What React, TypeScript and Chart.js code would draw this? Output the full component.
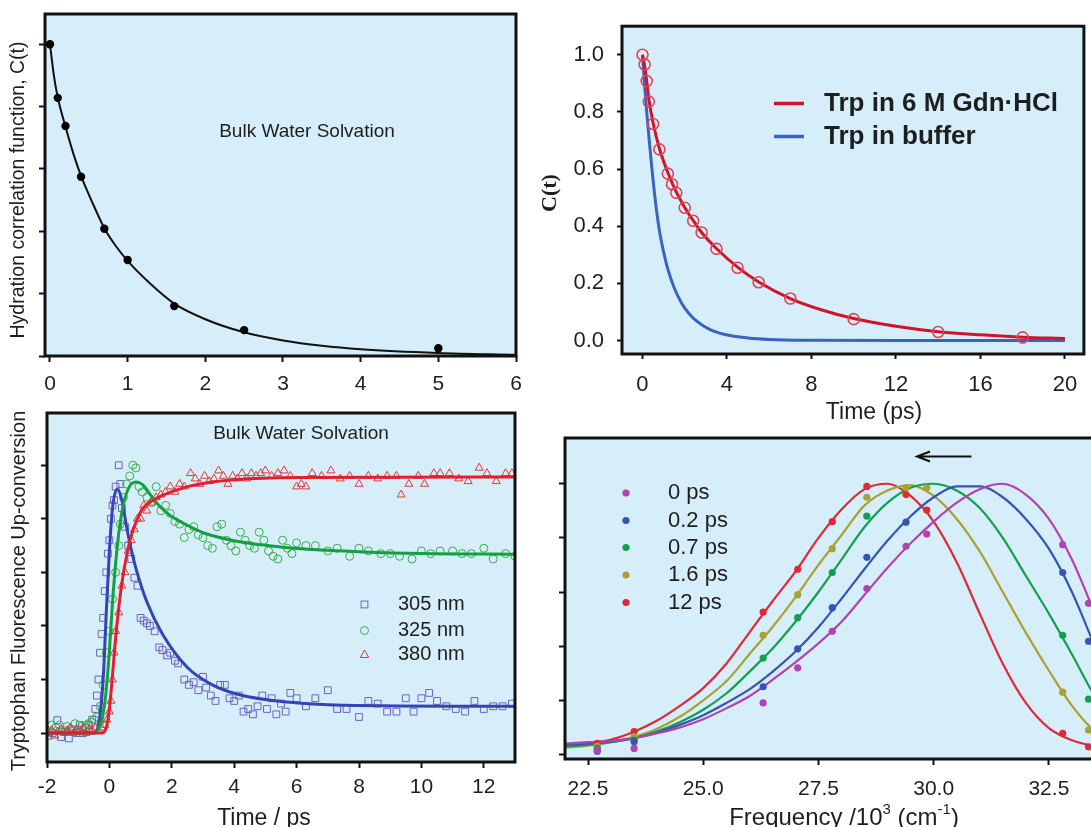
import React, { useEffect, useRef } from 'react';
import { Chart, registerables } from 'chart.js';

Chart.register(...registerables);

const FONT = '"Liberation Sans", Arial, sans-serif';
const SERIF = '"Liberation Serif", "Times New Roman", serif';
const BG = '#d6eef9';
const INK = '#1e1e1e';

// ---------- Panel 1: bulk water hydration correlation ----------
const bulkTimes = [0, 0.1, 0.2, 0.4, 0.7, 1.0, 1.6, 2.5, 5.0];
const bulkCorr = [1.0, 0.828, 0.738, 0.575, 0.408, 0.308, 0.16, 0.083, 0.025];
const bulkFitTimes = [0, 0.05, 0.1, 0.2, 0.3, 0.4, 0.55, 0.7, 0.85, 1.0, 1.3, 1.6, 2.0, 2.5, 3.0, 3.5, 4.0, 5.0, 6.0];
const bulkFitCorr = [1.0, 0.9, 0.83, 0.735, 0.65, 0.578, 0.49, 0.41, 0.352, 0.305, 0.23, 0.168, 0.118, 0.076, 0.05, 0.033, 0.022, 0.01, 0.004];
const bulkTicksX = [0, 1, 2, 3, 4, 5, 6];
const bulkTicksY = [0, 0.2, 0.4, 0.6, 0.8, 1.0];

// ---------- Panel 2: C(t) Trp ----------
const gdnTimes = [0, 0.1, 0.2, 0.3, 0.5, 0.8, 1.2, 1.4, 1.6, 2.0, 2.4, 2.8, 3.5, 4.5, 5.5, 7, 10, 14, 18];
const gdnCorr = [1.0, 0.966, 0.908, 0.836, 0.758, 0.669, 0.584, 0.547, 0.517, 0.465, 0.419, 0.378, 0.321, 0.255, 0.204, 0.147, 0.075, 0.03, 0.011];
const gdnFitTimes = [0, 0.1, 0.2, 0.3, 0.5, 0.8, 1.2, 1.6, 2.0, 2.4, 2.8, 3.5, 4.5, 5.5, 7, 8.5, 10, 12, 14, 16, 18, 20];
const gdnFitCorr = [1.0, 0.962, 0.908, 0.845, 0.762, 0.672, 0.588, 0.52, 0.466, 0.42, 0.378, 0.322, 0.257, 0.205, 0.147, 0.107, 0.077, 0.05, 0.031, 0.02, 0.012, 0.007];
const bufferFitTimes = [0, 0.1, 0.2, 0.3, 0.43, 0.6, 0.79, 1.0, 1.2, 1.5, 1.86, 2.2, 2.6, 3.2, 3.9, 5, 6, 8, 12, 20];
const bufferFitCorr = [1.0, 0.895, 0.8, 0.715, 0.615, 0.495, 0.39, 0.31, 0.25, 0.185, 0.13, 0.095, 0.066, 0.038, 0.021, 0.009, 0.004, 0.001, 0.0, 0.0];
const ctTicksX = [0, 4, 8, 12, 16, 20];
const ctTicksY = [0, 0.2, 0.4, 0.6, 0.8, 1.0];
const ctLegend = ['Trp in 6 M Gdn\u00b7HCl', 'Trp in buffer'];

// ---------- Panel 3: up-conversion transients [time ps, signal] ----------
const uv305Points = [
  [-1.95, -0.01], [-1.82, 0.0], [-1.67, 0.048], [-1.55, -0.015], [-1.42, 0.005], [-1.3, -0.02], [-1.18, 0.01], [-1.05, 0.0],
  [-0.95, 0.03], [-0.85, 0.0], [-0.75, 0.02], [-0.65, 0.03], [-0.55, 0.05], [-0.45, 0.09], [-0.4, 0.14], [-0.35, 0.2],
  [-0.3, 0.3], [-0.25, 0.37], [-0.2, 0.43], [-0.15, 0.53], [-0.1, 0.6], [-0.05, 0.67], [0.0, 0.72], [0.05, 0.8],
  [0.1, 0.85], [0.15, 0.87], [0.2, 0.92], [0.3, 1.0], [0.35, 0.93], [0.4, 0.84], [0.5, 0.77], [0.6, 0.7],
  [0.7, 0.65], [0.8, 0.58], [0.9, 0.55], [1.0, 0.43], [1.1, 0.42], [1.2, 0.41], [1.3, 0.4], [1.45, 0.38],
  [1.6, 0.32], [1.7, 0.31], [1.85, 0.29], [1.95, 0.3], [2.1, 0.27], [2.2, 0.26], [2.4, 0.2], [2.55, 0.18],
  [2.7, 0.19], [2.85, 0.16], [3.0, 0.21], [3.1, 0.17], [3.25, 0.14], [3.4, 0.12], [3.55, 0.18], [3.7, 0.18],
  [3.85, 0.13], [4.0, 0.12], [4.15, 0.14], [4.3, 0.08], [4.45, 0.09], [4.6, 0.07], [4.75, 0.1], [4.9, 0.14],
  [5.05, 0.09], [5.2, 0.13], [5.35, 0.07], [5.5, 0.11], [5.65, 0.08], [5.8, 0.15], [6.0, 0.13], [6.3, 0.1],
  [6.6, 0.13], [7.0, 0.16], [7.3, 0.09], [7.6, 0.09], [8.0, 0.06], [8.3, 0.12], [8.6, 0.11], [8.9, 0.08],
  [9.2, 0.08], [9.5, 0.13], [9.75, 0.08], [10.0, 0.13], [10.25, 0.15], [10.5, 0.12], [10.8, 0.1], [11.1, 0.09],
  [11.4, 0.08], [11.7, 0.12], [12.0, 0.09], [12.3, 0.1], [12.6, 0.1], [12.9, 0.11],
];
const uv325Points = [
  [-1.98, 0.01], [-1.85, 0.03], [-1.72, 0.02], [-1.6, 0.03], [-1.48, 0.01], [-1.35, 0.025], [-1.22, 0.015], [-1.1, 0.035],
  [-0.98, 0.01], [-0.88, 0.025], [-0.78, 0.02], [-0.68, 0.035], [-0.58, 0.04], [-0.48, 0.05], [-0.4, 0.06], [-0.3, 0.1],
  [-0.2, 0.18], [-0.1, 0.3], [0.0, 0.38], [0.1, 0.5], [0.2, 0.6], [0.3, 0.7], [0.35, 0.78], [0.45, 0.88],
  [0.55, 0.93], [0.65, 0.96], [0.75, 1.0], [0.85, 0.99], [0.95, 0.92], [1.05, 0.9], [1.2, 0.88], [1.35, 0.86],
  [1.5, 0.92], [1.65, 0.83], [1.8, 0.85], [1.95, 0.82], [2.1, 0.79], [2.25, 0.78], [2.4, 0.73], [2.55, 0.76],
  [2.7, 0.77], [2.85, 0.74], [3.0, 0.73], [3.15, 0.7], [3.3, 0.69], [3.45, 0.77], [3.6, 0.78], [3.75, 0.72],
  [3.9, 0.7], [4.05, 0.68], [4.2, 0.75], [4.35, 0.72], [4.5, 0.7], [4.65, 0.69], [4.8, 0.75], [4.95, 0.72],
  [5.1, 0.68], [5.25, 0.66], [5.4, 0.65], [5.55, 0.72], [5.7, 0.69], [5.85, 0.67], [6.0, 0.71], [6.3, 0.7],
  [6.6, 0.7], [7.0, 0.68], [7.3, 0.69], [7.7, 0.66], [8.0, 0.69], [8.3, 0.68], [8.7, 0.67], [9.0, 0.67],
  [9.3, 0.66], [9.7, 0.65], [10.0, 0.68], [10.3, 0.67], [10.6, 0.68], [11.0, 0.68], [11.3, 0.67], [11.6, 0.67],
  [12.0, 0.69], [12.3, 0.65], [12.7, 0.67], [13.0, 0.66],
];
const uv380Points = [
  [-1.95, 0.0], [-1.85, 0.01], [-1.75, -0.01], [-1.65, 0.005], [-1.55, 0.015], [-1.45, 0.0], [-1.35, 0.01], [-1.25, 0.02],
  [-1.15, 0.0], [-1.05, 0.015], [-0.95, 0.01], [-0.85, 0.02], [-0.75, 0.0], [-0.65, 0.015], [-0.55, 0.01], [-0.45, 0.02],
  [-0.35, 0.01], [-0.25, 0.02], [-0.15, 0.03], [-0.08, 0.05], [0.0, 0.08], [0.05, 0.12], [0.1, 0.2], [0.15, 0.3],
  [0.2, 0.38], [0.3, 0.45], [0.4, 0.55], [0.5, 0.6], [0.6, 0.68], [0.7, 0.72], [0.8, 0.76], [0.9, 0.8],
  [1.0, 0.8], [1.1, 0.85], [1.2, 0.83], [1.35, 0.86], [1.5, 0.88], [1.65, 0.89], [1.8, 0.9], [1.95, 0.92],
  [2.1, 0.9], [2.25, 0.93], [2.4, 0.92], [2.6, 0.97], [2.75, 0.95], [2.9, 0.93], [3.05, 0.96], [3.2, 0.94],
  [3.35, 0.95], [3.5, 0.98], [3.65, 0.96], [3.8, 0.93], [3.95, 0.96], [4.1, 0.95], [4.25, 0.97], [4.4, 0.95],
  [4.55, 0.97], [4.7, 0.96], [4.85, 0.97], [5.0, 0.98], [5.2, 0.96], [5.4, 0.97], [5.6, 0.98], [5.8, 0.96],
  [6.0, 0.92], [6.15, 0.93], [6.3, 0.92], [6.5, 0.97], [6.8, 0.96], [7.1, 0.98], [7.4, 0.95], [7.7, 0.96],
  [8.0, 0.93], [8.3, 0.96], [8.6, 0.95], [8.9, 0.96], [9.2, 0.96], [9.35, 0.89], [9.6, 0.93], [9.9, 0.96],
  [10.1, 0.93], [10.4, 0.97], [10.6, 0.97], [10.9, 0.97], [11.2, 0.95], [11.5, 0.94], [11.85, 0.99], [12.1, 0.97],
  [12.4, 0.94], [12.7, 0.97], [12.9, 0.97],
];
const uv305Fit = [
  [-2, 0], [-0.5, 0.0], [-0.35, 0.03], [-0.2, 0.2], [-0.1, 0.45], [0, 0.68], [0.1, 0.84], [0.25, 0.91], [0.4, 0.87],
  [0.55, 0.77], [0.7, 0.685], [0.85, 0.615], [1.2, 0.49], [1.7, 0.37], [2.5, 0.245], [3.3, 0.18], [4.2, 0.142],
  [5.6, 0.117], [7.5, 0.104], [13, 0.1],
];
const uv325Fit = [
  [-2, 0], [-0.45, 0.0], [-0.3, 0.03], [-0.23, 0.054], [-0.12, 0.14], [-0.01, 0.29], [0.1, 0.49], [0.26, 0.705],
  [0.43, 0.843], [0.65, 0.922], [0.87, 0.937], [1.09, 0.925], [1.31, 0.89], [1.65, 0.842], [1.98, 0.81],
  [2.53, 0.774], [3.08, 0.745], [4.0, 0.718], [5.07, 0.7], [6, 0.689], [8, 0.677], [10, 0.67], [13, 0.668],
];
const uv380Fit = [
  [-2, 0], [-0.25, 0.0], [-0.1, 0.02], [0.0, 0.09], [0.1, 0.217], [0.21, 0.367], [0.38, 0.543], [0.6, 0.69],
  [0.75, 0.755], [0.9, 0.8], [1.05, 0.835], [1.25, 0.858], [1.65, 0.885], [1.98, 0.9], [2.53, 0.921], [3.08, 0.934],
  [4, 0.946], [6, 0.954], [13, 0.956],
];
const upTicksX = [-2, 0, 2, 4, 6, 8, 10, 12];
const upTicksY = [0, 0.2, 0.4, 0.6, 0.8, 1.0];
const upLegend = ['305 nm', '325 nm', '380 nm'];

// ---------- Panel 4: time-resolved spectra ----------
const specFreq = [22.7, 23.5, 26.3, 27.05, 27.8, 28.55, 29.4, 29.85, 32.8, 33.36];
const spec0ps = [0.015, 0.022, 0.19, 0.32, 0.455, 0.613, 0.769, 0.814, 0.775, 0.558];
const spec02ps = [0.012, 0.047, 0.25, 0.39, 0.542, 0.728, 0.858, null, 0.672, 0.418];
const spec07ps = [0.022, 0.053, 0.356, 0.505, 0.672, 0.88, null, null, 0.44, 0.204];
const spec16ps = [0.03, 0.066, 0.44, 0.59, 0.76, 0.95, 0.985, 0.985, 0.23, 0.09];
const spec12ps = [0.041, 0.084, 0.526, 0.684, 0.86, 0.99, 0.96, 0.903, 0.078, 0.028];
const specFitFreq = [22, 22.5, 23, 23.5, 24, 24.5, 25, 25.5, 26, 26.5, 27, 27.5, 28, 28.5, 29, 29.5, 30, 30.5, 31, 31.5, 32, 32.5, 33, 33.5, 34];
const fit0ps = [0.04, 0.045, 0.05, 0.06, 0.078, 0.1, 0.13, 0.17, 0.215, 0.275, 0.34, 0.41, 0.49, 0.59, 0.69, 0.78, 0.86, 0.93, 0.98, 1.0, 0.96, 0.87, 0.72, 0.52, 0.32];
const fit02ps = [0.035, 0.04, 0.048, 0.06, 0.08, 0.11, 0.145, 0.19, 0.24, 0.305, 0.38, 0.47, 0.575, 0.685, 0.79, 0.88, 0.95, 0.99, 0.99, 0.95, 0.87, 0.76, 0.6, 0.4, 0.22];
const fit07ps = [0.03, 0.035, 0.045, 0.06, 0.085, 0.12, 0.165, 0.225, 0.305, 0.39, 0.49, 0.6, 0.72, 0.84, 0.93, 0.985, 1.0, 0.975, 0.91, 0.8, 0.66, 0.52, 0.37, 0.215, 0.11];
const fit16ps = [0.025, 0.032, 0.045, 0.065, 0.095, 0.14, 0.2, 0.27, 0.37, 0.47, 0.58, 0.7, 0.81, 0.92, 0.975, 0.995, 0.955, 0.87, 0.75, 0.6, 0.45, 0.31, 0.18, 0.085, 0.04];
const fit12ps = [0.035, 0.041, 0.055, 0.084, 0.125, 0.18, 0.245, 0.335, 0.45, 0.565, 0.675, 0.8, 0.905, 0.98, 1.0, 0.955, 0.86, 0.71, 0.52, 0.335, 0.19, 0.097, 0.052, 0.03, 0.02];
const specTicksX = [22.5, 25.0, 27.5, 30.0, 32.5];
const specTicksY = [0, 0.2, 0.4, 0.6, 0.8, 1.0];
const specLegend = ['0 ps', '0.2 ps', '0.7 ps', '1.6 ps', '12 ps'];
const specColors = ['#b043b0', '#3554b8', '#12a050', '#a9a232', '#e12838'];

// ---------- helpers ----------
const zip = (xs: number[], ys: (number | null)[]) =>
  xs.map((x, i) => ({ x, y: ys[i] })).filter((p) => p.y !== null && p.y !== undefined);
const fromPairs = (ps: number[][]) => ps.map(([x, y]) => ({ x, y }));

type Part = { t: string; sup?: boolean };
type Label = {
  parts: Part[];
  x: number;
  y: number;
  size: number;
  weight?: string;
  family?: string;
  rotate?: boolean;
  align?: 'left' | 'center';
};

function drawLabel(ctx: CanvasRenderingContext2D, l: Label) {
  ctx.save();
  ctx.translate(l.x, l.y);
  if (l.rotate) ctx.rotate(-Math.PI / 2);
  const fam = l.family || FONT;
  const w = l.weight || 'normal';
  const fontFor = (p: Part) => `${w} ${p.sup ? Math.round(l.size * 0.62) : l.size}px ${fam}`;
  let total = 0;
  for (const p of l.parts) {
    ctx.font = fontFor(p);
    total += ctx.measureText(p.t).width;
  }
  let x = l.align === 'left' ? 0 : -total / 2;
  ctx.fillStyle = INK;
  ctx.textBaseline = 'middle';
  ctx.textAlign = 'left';
  for (const p of l.parts) {
    ctx.font = fontFor(p);
    ctx.fillText(p.t, x, p.sup ? -l.size * 0.36 : 0);
    x += ctx.measureText(p.t).width;
  }
  ctx.restore();
}
const txt = (t: string) => [{ t }];

type AxisSpec = {
  min: number;
  max: number;
  ticks: number[];
  labels: boolean;
  fmt?: (v: number) => string;
  tickLength: number;
  padding?: number;
  fontSize?: number;
};

function axisOpts(a: AxisSpec, horizontal: boolean, size: number) {
  return {
    type: 'linear',
    min: a.min,
    max: a.max,
    afterBuildTicks: (s: any) => {
      s.ticks = a.ticks.map((v) => ({ value: v }));
    },
    afterFit: (s: any) => {
      if (horizontal) s.height = size;
      else s.width = size;
    },
    grid: {
      display: true,
      drawOnChartArea: false,
      drawTicks: true,
      tickLength: a.tickLength,
      tickWidth: 2,
      tickColor: '#111',
    },
    border: { display: false },
    ticks: {
      display: a.labels,
      padding: a.padding ?? 8,
      autoSkip: false,
      maxRotation: 0,
      minRotation: 0,
      color: INK,
      font: { family: FONT, size: a.fontSize ?? 21 },
      callback: (v: any) => (a.fmt ? a.fmt(Number(v)) : String(v)),
    },
  };
}

type PanelSpec = {
  left: number;
  top: number;
  w: number;
  h: number;
  area: { left: number; top: number; right: number; bottom: number };
  x: AxisSpec;
  y: AxisSpec;
  datasets: any[];
  decorate: (ctx: CanvasRenderingContext2D, chart: any) => void;
};

function buildConfig(p: PanelSpec): any {
  const framePlugin = {
    id: 'frame',
    beforeDraw(chart: any) {
      const { ctx, chartArea: a } = chart;
      ctx.save();
      ctx.fillStyle = BG;
      ctx.fillRect(a.left, a.top, a.right - a.left, a.bottom - a.top);
      ctx.restore();
    },
    afterDraw(chart: any) {
      const { ctx, chartArea: a } = chart;
      ctx.save();
      ctx.strokeStyle = '#111';
      ctx.lineWidth = 3;
      ctx.strokeRect(a.left, a.top, a.right - a.left, a.bottom - a.top);
      ctx.restore();
      p.decorate(ctx, chart);
    },
  };
  return {
    type: 'scatter',
    data: { datasets: p.datasets },
    options: {
      animation: false,
      responsive: false,
      maintainAspectRatio: false,
      devicePixelRatio: 1,
      events: [],
      layout: { padding: { left: 0, top: p.area.top, right: p.w - p.area.right, bottom: 0 } },
      plugins: { legend: { display: false }, tooltip: { enabled: false }, title: { display: false } },
      scales: {
        x: axisOpts(p.x, true, p.h - p.area.bottom),
        y: axisOpts(p.y, false, p.area.left),
      },
    },
    plugins: [framePlugin],
  };
}

const curve = (data: any[], color: string, width: number) => ({
  data,
  showLine: true,
  borderColor: color,
  borderWidth: width,
  pointRadius: 0,
  cubicInterpolationMode: 'monotone',
  fill: false,
});

// ---------- panel specs ----------
const panel1: PanelSpec = {
  left: 0,
  top: 0,
  w: 540,
  h: 400,
  area: { left: 45, top: 14, right: 516, bottom: 356 },
  x: { min: -0.064, max: 6, ticks: bulkTicksX, labels: true, tickLength: 6, padding: 10 },
  y: { min: 0, max: 1.097, ticks: bulkTicksY, labels: false, tickLength: 6 },
  datasets: [
    { data: zip(bulkTimes, bulkCorr), pointRadius: 4.2, backgroundColor: '#000', borderColor: '#000', borderWidth: 0 },
    curve(zip(bulkFitTimes, bulkFitCorr), '#111', 2),
  ],
  decorate: (ctx) => {
    drawLabel(ctx, { parts: txt('Bulk Water Solvation'), x: 307, y: 132, size: 19 });
    drawLabel(ctx, { parts: txt('Hydration correlation function, C(t)'), x: 19, y: 190, size: 19.5, rotate: true });
  },
};

const panel2: PanelSpec = {
  left: 540,
  top: 0,
  w: 551,
  h: 430,
  area: { left: 82, top: 12, right: 549, bottom: 354 },
  x: { min: -0.97, max: 20.9, ticks: ctTicksX, labels: true, tickLength: 5, padding: 13, fontSize: 22 },
  y: { min: -0.047, max: 1.1, ticks: ctTicksY, labels: true, tickLength: 5, padding: 13, fontSize: 22, fmt: (v) => v.toFixed(1) },
  datasets: [
    {
      data: zip(gdnTimes, gdnCorr),
      pointRadius: 5.5,
      pointStyle: 'circle',
      backgroundColor: 'rgba(0,0,0,0)',
      borderColor: '#e04454',
      borderWidth: 1.6,
    },
    curve(zip(gdnFitTimes, gdnFitCorr), '#d0142c', 3),
    curve(zip(bufferFitTimes, bufferFitCorr), '#3b62c0', 3),
  ],
  decorate: (ctx) => {
    const cols = ['#d0142c', '#3b62c0'];
    const ys = [103.5, 136.5];
    ctLegend.forEach((t, i) => {
      ctx.save();
      ctx.strokeStyle = cols[i];
      ctx.lineWidth = 3.5;
      ctx.beginPath();
      ctx.moveTo(234, ys[i]);
      ctx.lineTo(264, ys[i]);
      ctx.stroke();
      ctx.restore();
      drawLabel(ctx, { parts: txt(t), x: 284, y: ys[i], size: 26, weight: 'bold', align: 'left' });
    });
    drawLabel(ctx, { parts: txt('C(t)'), x: 10, y: 193, size: 22, weight: 'bold', family: SERIF, rotate: true });
    drawLabel(ctx, { parts: txt('Time (ps)'), x: 334, y: 413, size: 23 });
  },
};

const panel3: PanelSpec = {
  left: 0,
  top: 400,
  w: 540,
  h: 427,
  area: { left: 47, top: 13, right: 515, bottom: 362 },
  x: { min: -2, max: 13, ticks: upTicksX, labels: true, tickLength: 6, padding: 7 },
  y: { min: -0.108, max: 1.195, ticks: upTicksY, labels: false, tickLength: 6 },
  datasets: [
    curve(fromPairs(uv380Fit), '#e11f2f', 3),
    curve(fromPairs(uv325Fit), '#14a040', 3),
    curve(fromPairs(uv305Fit), '#3444b4', 3),
    {
      data: fromPairs(uv380Points),
      pointStyle: 'triangle',
      pointRadius: 4.6,
      backgroundColor: 'rgba(0,0,0,0)',
      borderColor: '#e23a3a',
      borderWidth: 1,
    },
    {
      data: fromPairs(uv325Points),
      pointStyle: 'circle',
      pointRadius: 4,
      backgroundColor: 'rgba(0,0,0,0)',
      borderColor: '#3aae48',
      borderWidth: 1,
    },
    {
      data: fromPairs(uv305Points),
      pointStyle: 'rect',
      pointRadius: 4.8,
      backgroundColor: 'rgba(0,0,0,0)',
      borderColor: '#6b62c4',
      borderWidth: 1,
    },
  ],
  decorate: (ctx) => {
    drawLabel(ctx, { parts: txt('Bulk Water Solvation'), x: 301, y: 34, size: 19 });
    drawLabel(ctx, { parts: txt('Tryptophan Fluorescence Up-conversion'), x: 19.5, y: 191, size: 20, rotate: true });
    drawLabel(ctx, { parts: txt('Time / ps'), x: 264, y: 419, size: 23 });
    const ys = [204.5, 230.5, 254.5];
    const mx = 364.5;
    ctx.save();
    ctx.lineWidth = 1;
    ctx.strokeStyle = '#6b62c4';
    ctx.strokeRect(mx - 3.4, ys[0] - 3.4, 6.8, 6.8);
    ctx.strokeStyle = '#3aae48';
    ctx.beginPath();
    ctx.arc(mx, ys[1], 4, 0, Math.PI * 2);
    ctx.stroke();
    ctx.strokeStyle = '#e23a3a';
    ctx.beginPath();
    ctx.moveTo(mx, ys[2] - 4.5);
    ctx.lineTo(mx + 4.2, ys[2] + 3);
    ctx.lineTo(mx - 4.2, ys[2] + 3);
    ctx.closePath();
    ctx.stroke();
    ctx.restore();
    upLegend.forEach((t, i) => drawLabel(ctx, { parts: txt(t), x: 398, y: ys[i], size: 20, align: 'left' }));
  },
};

const specSeries = [spec0ps, spec02ps, spec07ps, spec16ps, spec12ps];
const specFits = [fit0ps, fit02ps, fit07ps, fit16ps, fit12ps];

const panel4: PanelSpec = {
  left: 540,
  top: 400,
  w: 600,
  h: 427,
  area: { left: 25, top: 38, right: 578, bottom: 359 },
  x: { min: 22, max: 34, ticks: specTicksX, labels: true, tickLength: 6, padding: 12, fmt: (v) => v.toFixed(1) },
  y: { min: -0.017, max: 1.169, ticks: specTicksY, labels: false, tickLength: 6 },
  datasets: [
    ...specSeries.map((s, i) => ({
      data: zip(specFreq, s),
      pointRadius: 3.6,
      backgroundColor: specColors[i],
      borderColor: specColors[i],
      borderWidth: 0,
    })),
    ...specFits.map((f, i) => curve(zip(specFitFreq, f), specColors[i], 2.2)),
  ],
  decorate: (ctx) => {
    const ys = [93, 120.5, 147.5, 175, 202.5];
    specLegend.forEach((t, i) => {
      ctx.save();
      ctx.fillStyle = specColors[i];
      ctx.beginPath();
      ctx.arc(86, ys[i], 3.6, 0, Math.PI * 2);
      ctx.fill();
      ctx.restore();
      drawLabel(ctx, { parts: txt(t), x: 128, y: ys[i], size: 22, align: 'left' });
    });
    // arrow
    ctx.save();
    ctx.strokeStyle = '#111';
    ctx.lineWidth = 2;
    ctx.beginPath();
    ctx.moveTo(431.5, 56.5);
    ctx.lineTo(377, 56.5);
    ctx.moveTo(390, 51.5);
    ctx.lineTo(377, 56.5);
    ctx.lineTo(390, 61.5);
    ctx.stroke();
    ctx.restore();
    drawLabel(ctx, {
      parts: [{ t: 'Frequency /10' }, { t: '3', sup: true }, { t: ' (cm' }, { t: '-1', sup: true }, { t: ')' }],
      x: 304,
      y: 418,
      size: 24,
    });
  },
};

const panels = [panel1, panel2, panel3, panel4];

function Panel({ spec }: { spec: PanelSpec }) {
  const ref = useRef<HTMLCanvasElement>(null);
  useEffect(() => {
    if (!ref.current) return;
    const chart = new Chart(ref.current, buildConfig(spec));
    return () => chart.destroy();
  }, [spec]);
  return (
    <canvas
      ref={ref}
      width={spec.w}
      height={spec.h}
      style={{ position: 'absolute', left: spec.left, top: spec.top, width: spec.w, height: spec.h }}
    />
  );
}

export default function App() {
  return (
    <div
      style={{
        position: 'fixed',
        left: 0,
        top: 0,
        width: 1091,
        height: 827,
        overflow: 'hidden',
        background: '#fff',
      }}
    >
      {panels.map((p, i) => (
        <Panel key={i} spec={p} />
      ))}
    </div>
  );
}
